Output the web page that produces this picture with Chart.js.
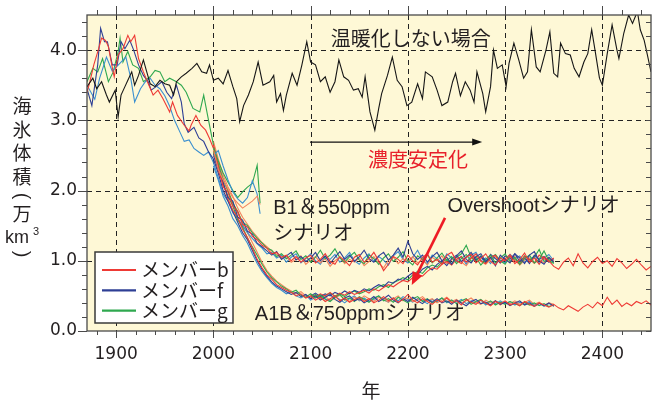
<!DOCTYPE html>
<html><head><meta charset="utf-8">
<script src="https://cdn.jsdelivr.net/npm/chart.js@4.4.0/dist/chart.umd.min.js"></script>
<style>html,body{margin:0;padding:0;background:#fff;}</style>
</head><body>
<canvas id="c" width="656" height="401"></canvas>
<script>
// ---------------- data ----------------
const xTickLabels = [1900, 2000, 2100, 2200, 2300, 2400];
const yTickLabels = [0, 1, 2, 3, 4];
const memberLabels = ['メンバーb', 'メンバーf', 'メンバーg'];

// control run (no warming)
const ctrlYears = [1870,1876,1880,1885,1890,1893,1899,1902,1905,1909,1912,1916,1919,1923,1928,1931,1935,1940,1945,1950,1955,1959,1962,1967,1972,1978,1983,1988,1993,1996,2000,2005,2010,2015,2020,2024,2027,2031,2036,2041,2046,2051,2058,2062,2065,2069,2072,2075,2081,2086,2091,2096,2100,2105,2110,2115,2120,2125,2129,2134,2139,2144,2149,2153,2156,2161,2166,2170,2173,2179,2184,2189,2194,2199,2204,2210,2215,2218,2225,2230,2235,2241,2246,2249,2254,2259,2264,2268,2271,2277,2280,2285,2288,2292,2297,2301,2304,2309,2314,2319,2323,2327,2332,2336,2342,2346,2350,2354,2357,2362,2367,2371,2376,2381,2385,2389,2393,2397,2400,2405,2410,2415,2417,2422,2427,2431,2436,2439,2443,2446,2450];
const ctrlVals = [3.48,3.60,3.45,3.55,3.36,3.26,3.43,3.05,3.36,3.48,3.57,3.69,3.50,3.64,3.86,3.71,3.52,3.48,3.57,3.52,3.50,3.36,3.55,3.62,3.67,3.74,3.81,3.69,3.67,3.79,3.57,3.60,3.52,3.71,3.48,3.31,2.98,3.21,3.36,3.55,3.83,3.50,3.55,3.64,3.26,3.38,3.14,3.36,3.67,3.50,3.79,4.12,3.83,3.79,3.55,3.62,3.40,3.55,3.86,3.62,3.57,3.43,3.45,3.33,3.62,3.12,2.86,3.17,3.38,3.64,3.90,3.57,3.48,3.21,3.26,3.52,3.31,3.69,3.62,3.43,3.21,3.26,3.55,3.67,3.35,3.55,3.43,3.26,3.69,3.38,3.12,3.48,4.00,3.74,3.79,3.48,3.81,4.10,3.86,3.60,3.69,4.29,3.76,3.69,4.00,4.26,3.67,3.62,4.10,3.95,3.93,3.74,3.62,3.83,3.95,4.29,3.95,3.60,3.50,3.95,4.36,4.00,3.88,4.24,4.50,4.38,4.55,4.29,4.14,3.95,3.69];

// historical period
const histYearsB = [1870,1873,1877,1882,1885,1889,1892,1896,1898,1902,1907,1912,1915,1919,1923,1928,1933,1938,1943,1948,1955,1958,1963,1970,1975,1977,1982,1987,1992,1996,2000];
const histValsB  = [3.40,3.55,3.79,4.02,4.17,4.14,4.05,3.75,3.62,3.93,4.02,4.21,4.12,4.21,3.88,3.69,3.52,3.36,3.43,3.31,3.12,3.26,3.07,2.93,2.85,2.93,3.07,2.93,2.86,2.74,2.60];
const histYearsF = [1870,1875,1881,1884,1888,1891,1896,1901,1905,1909,1914,1918,1923,1928,1933,1936,1941,1947,1952,1957,1962,1967,1970,1974,1980,1985,1990,1995,2000];
const histValsF  = [3.45,3.21,3.79,4.31,4.12,4.12,3.79,3.79,4.12,4.02,4.14,4.00,3.79,3.64,3.55,3.43,3.48,3.55,3.40,3.31,3.50,3.26,2.95,2.83,2.90,2.75,2.70,2.55,2.45];
const histYearsF2 = [1870,1878,1883,1890,1896,1903,1910,1915,1919,1925,1930,1935,1940,1945,1950,1955,1960,1965,1970,1975,1980,1985,1990,1995,2000];
const histValsF2  = [3.50,3.30,3.60,3.90,3.70,3.80,3.90,3.60,3.26,3.45,3.55,3.60,3.50,3.45,3.35,3.20,3.00,2.85,2.70,2.72,2.60,2.55,2.50,2.55,2.40];
const histYearsG = [1870,1876,1881,1886,1892,1897,1902,1904,1907,1912,1917,1923,1928,1935,1940,1945,1950,1955,1962,1967,1972,1979,1986,1990,1994,1998,2000];
const histValsG  = [3.55,3.74,3.69,3.88,3.55,3.69,3.98,4.17,3.83,3.98,3.79,3.74,3.55,3.62,3.71,3.69,3.55,3.60,3.55,3.50,3.40,3.17,3.12,3.36,3.07,2.79,2.65];

// short runs 2000-2048
const shortYears = [2000,2005,2010,2015,2020,2025,2030,2035,2040,2045,2048];
const shortB = [2.58,2.30,2.15,2.02,1.90,1.82,1.75,1.80,1.85,1.92,1.80];
const shortF = [2.50,2.57,2.35,2.15,1.98,1.88,1.82,1.90,2.14,1.95,1.67];
const shortG = [2.62,2.42,2.25,2.12,2.00,1.90,1.98,2.05,2.10,2.36,1.82];

// B1 & 550ppm (from 2000, every 5 years)
const b1B = [2.65,2.35,2.05,1.98,1.78,1.70,1.52,1.48,1.35,1.30,
 1.22,1.18,1.10,1.12,1.05,1.08,1.00,1.06,0.98,1.04,
 1.08,0.97,1.02,1.10,0.99,0.95,1.06,1.00,0.93,1.05,
 1.09,0.98,1.03,1.12,1.00,0.86,0.95,1.06,1.02,0.96,
 1.08,1.00,0.94,1.05,1.10,0.98,1.02,0.95,1.08,1.12,
 1.00,0.96,1.05,1.09,0.97,1.03,1.10,0.99,0.94,1.04,
 1.00,1.07,0.96,1.02,1.11,0.98,1.04,0.95,1.06,1.00,
 0.92,0.88,0.98,1.04,0.93,1.10,0.97,0.90,0.99,1.05,
 0.96,1.00,0.92,1.03,0.97,0.89,0.95,1.02,0.94,0.87,0.92];
const b1B2 = [2.70,2.45,2.22,2.05,1.92,1.75,1.62,1.52,1.42,1.34,
 1.26,1.20,1.14,1.09,1.03,1.06,0.98,1.02,1.07,0.95,
 1.01,1.06,0.97,1.03,0.92,1.00,1.05,0.96,1.02,0.98,
 1.04,0.93,0.99,1.06,0.97,0.90,1.01,1.05,0.96,1.03,
 0.99,1.06,0.97,1.02,0.94,1.05,1.00,1.07,0.96,1.01,
 1.05,0.98,0.93,1.03,1.07,0.99,0.95,1.02,1.06,0.97,
 1.03,0.98,1.06,0.94,1.01,1.04,0.96,1.02,0.97,1.05,0.99];
const b1F = [2.50,2.30,2.12,1.90,1.85,1.62,1.58,1.42,1.38,1.25,
 1.20,1.14,1.08,1.13,1.02,1.07,1.12,1.01,1.06,0.99,
 1.04,1.12,1.00,1.07,0.96,1.05,1.13,1.02,1.08,0.99,
 1.06,1.15,1.03,0.98,1.07,1.12,1.01,1.08,1.18,1.05,
 1.28,1.10,1.02,1.08,0.98,1.06,1.12,1.00,1.05,0.95,
 1.07,1.14,1.02,0.97,1.06,1.10,0.99,1.05,0.93,1.08,
 1.02,0.97,1.10,1.04,0.96,1.08,1.13,1.00,0.95,1.05,0.98];
const b1F2 = [2.40,2.18,1.95,1.85,1.68,1.60,1.50,1.40,1.32,1.24,
 1.18,1.10,1.12,1.04,1.08,0.98,1.05,1.10,0.97,1.03,
 1.10,1.00,0.95,1.06,1.02,1.09,0.98,1.04,1.12,1.00,
 0.95,1.04,1.10,0.99,1.06,1.01,0.94,1.07,1.13,1.02,
 0.97,1.05,1.15,1.01,0.96,1.08,1.03,0.97,1.10,1.04,
 0.99,1.06,0.95,1.08,1.12,1.00,1.04,0.96,1.07,1.01,
 0.97,1.09,1.03,1.07,0.98,1.02,1.06,0.96,1.04,1.09,1.00];
const b1G = [2.55,2.38,2.15,2.00,1.82,1.70,1.55,1.50,1.40,1.32,
 1.25,1.18,1.15,1.06,1.10,1.03,1.08,1.14,1.02,1.07,
 0.98,1.05,1.15,1.03,1.08,1.17,1.04,0.98,1.06,1.12,
 1.01,0.96,1.08,1.03,0.95,1.04,1.10,0.99,1.05,1.13,
 1.00,0.94,1.07,1.02,1.09,0.97,1.04,1.11,1.00,1.06,
 0.96,1.03,1.09,0.99,1.05,0.94,1.02,1.08,0.97,1.04,
 1.10,0.99,1.05,0.95,1.03,1.08,0.97,1.02,1.14,1.00,0.96];

// A1B & 750ppm (from 2000, every 5 years)
const a1bB = [2.55,2.28,2.10,1.88,1.72,1.62,1.45,1.33,1.18,1.02,
 0.90,0.80,0.74,0.66,0.62,0.58,0.55,0.50,0.53,0.47,
 0.50,0.44,0.48,0.42,0.46,0.50,0.43,0.47,0.41,0.45,
 0.48,0.42,0.46,0.40,0.44,0.49,0.43,0.47,0.41,0.45,
 0.52,0.44,0.40,0.46,0.42,0.38,0.44,0.41,0.47,0.40,
 0.43,0.37,0.45,0.41,0.38,0.44,0.40,0.36,0.42,0.39,
 0.43,0.37,0.40,0.36,0.42,0.38,0.35,0.40,0.37,0.34,
 0.38,0.33,0.30,0.36,0.32,0.28,0.34,0.38,0.33,0.41,
 0.36,0.48,0.38,0.44,0.35,0.40,0.36,0.42,0.39,0.43,0.37];
const a1bB2 = [2.68,2.40,2.18,1.98,1.82,1.68,1.52,1.40,1.26,1.12,
 0.98,0.86,0.78,0.71,0.66,0.61,0.57,0.53,0.56,0.50,
 0.47,0.51,0.45,0.49,0.44,0.47,0.51,0.45,0.42,0.48,
 0.44,0.50,0.46,0.42,0.48,0.45,0.41,0.46,0.50,0.43,
 0.47,0.42,0.45,0.49,0.43,0.46,0.40,0.44,0.48,0.42,
 0.45,0.40,0.43,0.47,0.41,0.38,0.44,0.40,0.43,0.37,
 0.42,0.39,0.43,0.38,0.41,0.44,0.38,0.41,0.36,0.40,0.38];
const a1bF = [2.45,2.25,2.00,1.85,1.70,1.55,1.40,1.30,1.15,1.00,
 0.88,0.78,0.70,0.64,0.60,0.56,0.52,0.55,0.49,0.52,
 0.46,0.50,0.44,0.48,0.52,0.45,0.41,0.47,0.50,0.43,
 0.46,0.40,0.44,0.49,0.42,0.46,0.51,0.44,0.40,0.46,
 0.42,0.48,0.43,0.39,0.45,0.41,0.46,0.40,0.43,0.38,
 0.44,0.40,0.36,0.42,0.45,0.39,0.41,0.37,0.43,0.38,
 0.41,0.36,0.40,0.43,0.37,0.40,0.35,0.39,0.36,0.40,0.35];
const a1bF2 = [2.35,2.15,1.92,1.78,1.60,1.50,1.36,1.25,1.10,0.96,
 0.85,0.76,0.68,0.62,0.58,0.53,0.56,0.50,0.47,0.51,
 0.44,0.48,0.52,0.46,0.43,0.49,0.45,0.40,0.46,0.50,
 0.43,0.47,0.42,0.45,0.50,0.44,0.41,0.47,0.43,0.49,
 0.45,0.41,0.46,0.43,0.39,0.45,0.42,0.47,0.40,0.44,
 0.41,0.45,0.39,0.43,0.40,0.44,0.37,0.42,0.39,0.43,
 0.39,0.42,0.37,0.41,0.38,0.42,0.37,0.40,0.35,0.39,0.36];
const a1bG = [2.60,2.35,2.08,1.92,1.78,1.58,1.48,1.32,1.20,1.08,
 0.95,0.84,0.76,0.70,0.64,0.60,0.55,0.58,0.51,0.48,
 0.53,0.47,0.51,0.45,0.42,0.48,0.52,0.44,0.47,0.42,
 0.49,0.45,0.41,0.47,0.50,0.43,0.46,0.41,0.48,0.44,
 0.40,0.46,0.49,0.42,0.46,0.40,0.43,0.47,0.41,0.44,
 0.39,0.43,0.46,0.38,0.42,0.45,0.39,0.43,0.37,0.41,
 0.38,0.42,0.39,0.36,0.41,0.37,0.40,0.36,0.39,0.35,0.37];

// Overshoot (from 2100, every 5 years)
const osB = [0.52,0.48,0.53,0.50,0.55,0.49,0.54,0.51,0.56,0.52,
 0.55,0.58,0.54,0.60,0.57,0.62,0.66,0.63,0.68,0.72,
 0.70,0.76,0.80,0.78,0.85,0.90,0.88,0.95,0.99,0.94,
 1.02,1.06,0.98,1.04,1.10,1.00,0.96,1.05,1.08,0.98,
 1.03,1.09,1.00,0.95,1.06,1.02,0.97,1.08,1.03,0.99,1.04];
const osF = [0.50,0.54,0.49,0.53,0.50,0.55,0.52,0.57,0.53,0.58,
 0.55,0.60,0.57,0.62,0.66,0.63,0.70,0.68,0.74,0.72,
 0.78,0.83,0.80,0.88,0.92,0.87,0.95,1.00,0.93,1.03,
 1.08,0.99,1.05,1.12,1.01,1.06,0.98,1.09,1.03,0.97,
 1.07,1.02,1.10,0.99,1.04,0.96,1.08,1.02,1.06,0.98,1.03];
const osG = [0.48,0.52,0.47,0.51,0.54,0.50,0.53,0.49,0.54,0.57,
 0.53,0.56,0.60,0.58,0.63,0.66,0.62,0.69,0.72,0.76,
 0.73,0.80,0.85,0.82,0.90,0.94,0.91,0.98,1.02,0.96,
 1.05,1.10,1.22,1.05,1.00,1.07,0.97,1.04,1.09,1.00,
 0.95,1.06,1.02,0.98,1.07,1.01,1.05,1.16,0.99,1.03,0.97];

// ---------------- styling ----------------
const RED = '#ee3a35', ORANGE = '#f4845c', BLUE = '#2e3f95', LBLUE = '#3a8fd0', GREEN = '#2fa84f', BLACK = '#161616';
const INK = '#231f20';
const LATIN = '"Liberation Sans", Arial, "Noto Sans CJK JP", sans-serif';
const CJK = '"Noto Sans CJK JP", "Liberation Sans", sans-serif';

function pts(years, vals) { return vals.map((v, i) => ({ x: years[i], y: v })); }
function stepPts(start, step, vals) { return vals.map((v, i) => ({ x: start + i * step, y: v })); }
function ds(data, color, w) { return { data, borderColor: color, borderWidth: w || 1.1, pointRadius: 0, tension: 0, fill: false }; }

const datasets = [
  ds(pts(ctrlYears, ctrlVals), BLACK, 1.1),
  ds(pts(histYearsB, histValsB), RED),
  ds(pts(histYearsF, histValsF), BLUE),
  ds(pts(histYearsF2, histValsF2), LBLUE),
  ds(pts(histYearsG, histValsG), GREEN),
  ds(pts(shortYears, shortB), ORANGE),
  ds(pts(shortYears, shortF), LBLUE),
  ds(pts(shortYears, shortG), GREEN),
  ds(stepPts(2000, 5, b1B), RED),
  ds(stepPts(2000, 5, b1F), BLUE),
  ds(stepPts(2000, 5, b1G), GREEN),
  ds(stepPts(2000, 5, a1bB), RED),
  ds(stepPts(2000, 5, a1bF), BLUE),
  ds(stepPts(2000, 5, a1bG), GREEN),
  ds(stepPts(2100, 5, osB), RED),
  ds(stepPts(2100, 5, osF), BLUE),
  ds(stepPts(2100, 5, osG), GREEN),
  ds(stepPts(2000, 5, b1B2), ORANGE),
  ds(stepPts(2000, 5, b1F2), LBLUE),
  ds(stepPts(2000, 5, a1bB2), ORANGE),
  ds(stepPts(2000, 5, a1bF2), LBLUE)
];

// annotations (data coordinates)
const notes = [
  { text: '温暖化しない場合', x: 2120.6, y: 4.17, color: INK, font: '20px ' + CJK },
  { text: '濃度安定化', x: 2159, y: 2.45, color: '#e8202a', font: '20px ' + CJK },
  { text: 'B1＆550ppm', x: 2061.5, y: 1.75, color: INK, font: '20px ' + LATIN },
  { text: 'シナリオ', x: 2061.5, y: 1.41, color: INK, font: '20px ' + CJK },
  { text: 'Overshootシナリオ', x: 2240.6, y: 1.77, color: INK, font: '20px ' + LATIN },
  { text: 'A1B＆750ppmシナリオ', x: 2042.6, y: 0.23, color: INK, font: '20px ' + LATIN }
];

function arrow(ctx, x1, y1, x2, y2, color, w, hl, hw) {
  const a = Math.atan2(y2 - y1, x2 - x1);
  ctx.save();
  ctx.strokeStyle = color; ctx.fillStyle = color; ctx.lineWidth = w;
  ctx.beginPath(); ctx.moveTo(x1, y1);
  ctx.lineTo(x2 - Math.cos(a) * hl * 0.8, y2 - Math.sin(a) * hl * 0.8); ctx.stroke();
  ctx.beginPath(); ctx.moveTo(x2, y2);
  ctx.lineTo(x2 - Math.cos(a) * hl + Math.sin(a) * hw, y2 - Math.sin(a) * hl - Math.cos(a) * hw);
  ctx.lineTo(x2 - Math.cos(a) * hl - Math.sin(a) * hw, y2 - Math.sin(a) * hl + Math.cos(a) * hw);
  ctx.closePath(); ctx.fill();
  ctx.restore();
}

const frame = {
  id: 'frame',
  beforeDatasetsDraw(chart) {
    const { ctx, chartArea: a, scales: { x, y } } = chart;
    ctx.save();
    ctx.fillStyle = '#fef8d6';
    ctx.fillRect(a.left, a.top, a.right - a.left, a.bottom - a.top);
    ctx.strokeStyle = '#222'; ctx.lineWidth = 1; ctx.setLineDash([5, 4]);
    xTickLabels.forEach(v => { const px = Math.round(x.getPixelForValue(v)) + 0.5; ctx.beginPath(); ctx.moveTo(px, a.top); ctx.lineTo(px, a.bottom); ctx.stroke(); });
    yTickLabels.slice(1).forEach(v => { const py = Math.round(y.getPixelForValue(v)) + 0.5; ctx.beginPath(); ctx.moveTo(a.left, py); ctx.lineTo(a.right, py); ctx.stroke(); });
    ctx.restore();
  },
  afterDatasetsDraw(chart) {
    const { ctx, chartArea: a, scales: { x, y } } = chart;
    ctx.save();
    ctx.strokeStyle = '#4a4a4a'; ctx.lineWidth = 1.3; ctx.setLineDash([]);
    ctx.strokeRect(a.left, a.top, a.right - a.left, a.bottom - a.top);
    ctx.lineWidth = 1;
    for (let v = 1880; v <= 2440; v += 20) {
      const px = Math.round(x.getPixelForValue(v)) + 0.5;
      const major = v % 100 === 0;
      ctx.beginPath();
      ctx.moveTo(px, a.bottom); ctx.lineTo(px, a.bottom + (major ? 7 : 4));
      ctx.moveTo(px, a.top); ctx.lineTo(px, a.top - (major ? 9 : 5));
      ctx.stroke();
    }
    for (let i = 0; i <= 22; i++) {
      const v = i * 0.2;
      const py = Math.round(y.getPixelForValue(v)) + 0.5;
      const major = i % 5 === 0;
      ctx.beginPath();
      ctx.moveTo(a.left, py); ctx.lineTo(a.left - (major ? 9 : 5), py);
      ctx.moveTo(a.right, py); ctx.lineTo(a.right - 5, py);
      ctx.stroke();
    }
    ctx.textBaseline = 'middle'; ctx.textAlign = 'left';
    notes.forEach(n => { ctx.font = n.font; ctx.fillStyle = n.color; ctx.fillText(n.text, x.getPixelForValue(n.x), y.getPixelForValue(n.y)); });
    arrow(ctx, x.getPixelForValue(2099.3), y.getPixelForValue(2.69), x.getPixelForValue(2276.4), y.getPixelForValue(2.69), '#111', 1.2, 10, 3.5);
    arrow(ctx, x.getPixelForValue(2238.2), y.getPixelForValue(1.61), x.getPixelForValue(2204), y.getPixelForValue(0.655), '#ee1c25', 2.6, 13, 5.5);
    // legend
    const lx = 95, ly = 252, lw = 138, lh = 71;
    ctx.fillStyle = '#ffffff'; ctx.fillRect(lx, ly, lw, lh);
    ctx.strokeStyle = '#3a3a3a'; ctx.lineWidth = 1.5; ctx.strokeRect(lx, ly, lw, lh);
    const lc = [RED, BLUE, GREEN];
    memberLabels.forEach((t, i) => {
      const yy = ly + 18 + i * 20.3;
      ctx.strokeStyle = lc[i]; ctx.lineWidth = 2.2;
      ctx.beginPath(); ctx.moveTo(102, yy); ctx.lineTo(136, yy); ctx.stroke();
      ctx.fillStyle = INK; ctx.font = '19px ' + CJK; ctx.textBaseline = 'middle';
      ctx.fillText(t, 141, yy);
    });
    ctx.restore();
  },
  afterDraw(chart) {
    const { ctx } = chart;
    ctx.save();
    ctx.fillStyle = INK; ctx.textAlign = 'center'; ctx.textBaseline = 'middle';
    ctx.font = '19px ' + CJK;
    [['海', 106], ['氷', 130], ['体', 153], ['積', 177], ['万', 214]].forEach(([c, yy]) => ctx.fillText(c, 22, yy));
    // rotated parentheses
    ctx.font = '20px ' + LATIN;
    [['(', 196], [')', 254]].forEach(([c, yy]) => {
      ctx.save(); ctx.translate(22, yy); ctx.rotate(Math.PI / 2); ctx.fillText(c, 0, 0); ctx.restore();
    });
    ctx.font = '18px ' + LATIN; ctx.textAlign = 'left'; ctx.textBaseline = 'alphabetic';
    ctx.fillText('km', 5, 243);
    ctx.font = '11px ' + LATIN; ctx.fillText('3', 33, 235);
    ctx.font = '19px ' + CJK; ctx.textAlign = 'center'; ctx.textBaseline = 'middle';
    ctx.fillText('年', 371, 391);
    ctx.restore();
  }
};

Chart.defaults.color = INK;
new Chart(document.getElementById('c'), {
  type: 'line',
  data: { datasets },
  options: {
    responsive: false, animation: false, devicePixelRatio: 1,
    layout: { padding: { left: 0, right: 5, top: 15, bottom: 0 } },
    plugins: { legend: { display: false }, tooltip: { enabled: false } },
    scales: {
      x: {
        type: 'linear', min: 1870, max: 2450,
        afterBuildTicks: s => { s.ticks = xTickLabels.map(v => ({ value: v })); },
        afterFit: s => { s.height = 70; s.paddingLeft = 0; s.paddingRight = 0; },
        grid: { display: false, drawTicks: false }, border: { display: false },
        ticks: { font: { family: '"DejaVu Sans"', size: 17 }, color: INK, padding: 13, maxRotation: 0, autoSkip: false, callback: v => String(v) }
      },
      y: {
        type: 'linear', min: 0, max: 4.5,
        afterBuildTicks: s => { s.ticks = yTickLabels.map(v => ({ value: v })); },
        afterFit: s => { s.width = 87; s.paddingTop = 0; s.paddingBottom = 0; },
        grid: { display: false, drawTicks: false }, border: { display: false },
        ticks: { font: { family: '"DejaVu Sans"', size: 17 }, color: INK, padding: 10, callback: v => v.toFixed(1) }
      }
    }
  },
  plugins: [frame]
});
</script>
</body></html>
